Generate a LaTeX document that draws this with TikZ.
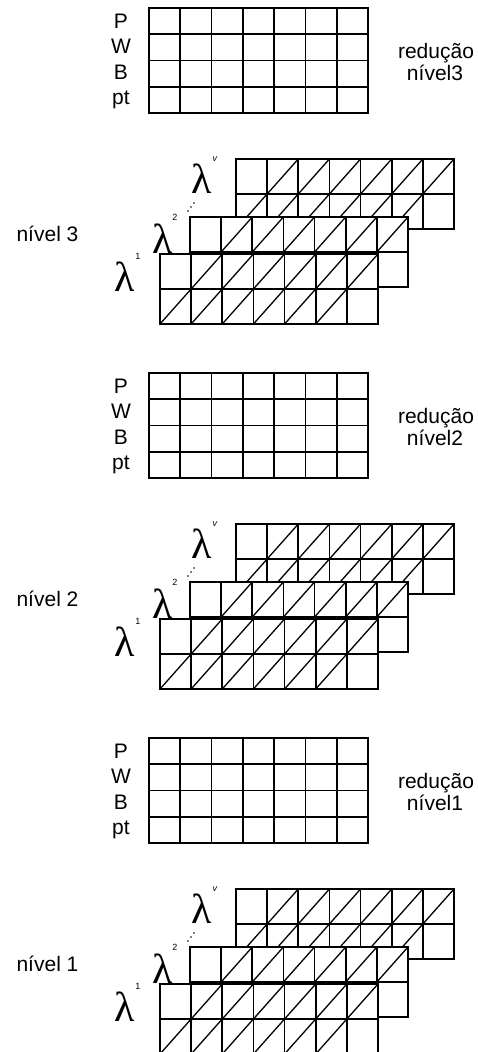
\documentclass[tikz,border=0pt]{standalone}
\usepackage{fontspec}
\setmainfont{Liberation Sans}
\newfontfamily\lambdafont{Liberation Serif}
\usetikzlibrary{positioning}

\begin{document}
\begin{tikzpicture}[x=1pt, y=-1pt, line width=1.7pt,
	rotulo/.style={font=\fontsize{21}{24}\selectfont, anchor=base, inner sep=0pt},
	lambda/.style={font=\lambdafont\fontsize{42}{44}\selectfont, anchor=base, inner sep=0pt},
	indice/.style={font=\fontsize{9}{10}\selectfont, inner sep=0pt},
	diagonal/.style={line width=1.3pt}]
	\useasboundingbox (0,0) rectangle (478,1052);
	\foreach \lev/\oy in {3/0, 2/365, 1/730}{
		% tabela de reducao (7 x 4)
		\draw (149,{\oy+8}) rectangle ++(219,105);
		\foreach \i in {1,...,6}
			\draw ({149+\i*31.29},{\oy+8}) -- ++(0,105);
		\foreach \j in {1,2,3}
			\draw (149,{\oy+8+\j*26.25}) -- ++(219,0);
		\foreach \t/\yb [count=\r] in {P/28, W/53.5, B/79, pt/104.5}
			\node[rotulo] (var-\lev-\r) at (121,{\oy+\yb}) {\t};
		\node[rotulo] (red-\lev) at (436,{\oy+58}) {redução};
		\node[rotulo] (redniv-\lev) at (435,{\oy+80}) {nível\lev};
		% camadas lambda (de tras para a frente)
		\foreach \cx/\cy in {236/159, 190/217, 160/254}{
			\fill[white] (\cx,{\oy+\cy}) rectangle ++(218,70);
			\draw (\cx,{\oy+\cy}) rectangle ++(218,70);
			\draw (\cx,{\oy+\cy+35}) -- ++(218,0);
			\foreach \i in {1,...,6}
				\draw ({\cx+\i*31.14},{\oy+\cy}) -- ++(0,70);
			\foreach \i in {0,...,5}
				\draw[diagonal] ({\cx+\i*31.14},{\oy+\cy+70}) -- ({\cx+(\i+2)*31.14},{\oy+\cy});
		}
		\foreach \lx/\ly/\s/\sx/\sy/\nome in {125/291/1/138/256/a, 163/253/2/175/217/b, 202/193/\textit{v}/215/159/c}{
			\node[lambda] (lam-\nome-\lev) at (\lx,{\oy+\ly}) {λ};
			\node[indice] (sup-\nome-\lev) at (\sx,{\oy+\sy}) {\s};
		}
		\foreach \dx/\dy in {188/211, 191/207, 194/203}
			\fill (\dx,{\oy+\dy}) circle (0.9);
		\node[rotulo] (niv-\lev) at (47.5,{\oy+241}) {nível \lev};
	}
\end{tikzpicture}
\end{document}
